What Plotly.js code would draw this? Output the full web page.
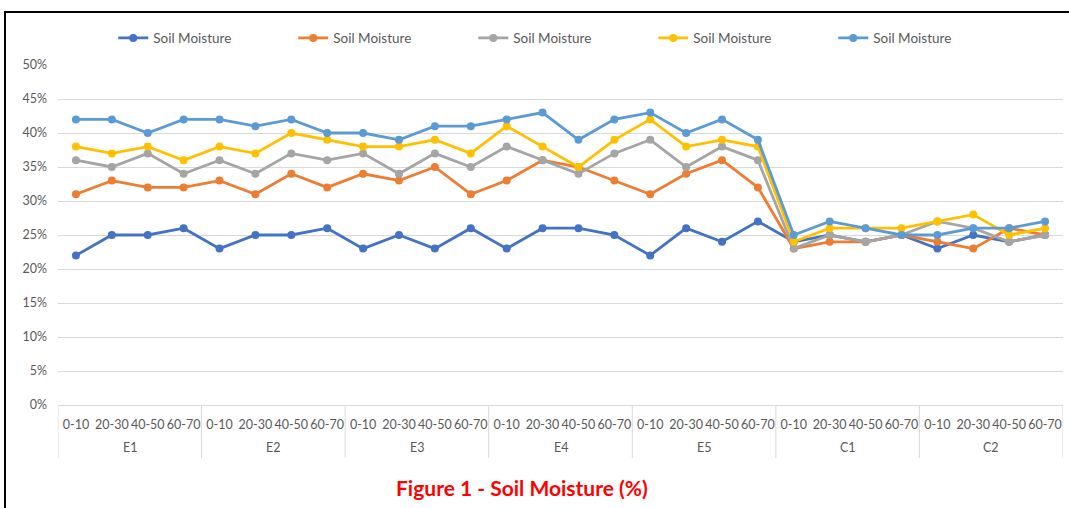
<!DOCTYPE html>
<html>
<head>
<meta charset="utf-8">
<script src="https://cdn.plot.ly/plotly-3.0.1.min.js"></script>
<style>
  html, body { margin: 0; padding: 0; background: #fff; }
  #wrap { position: relative; width: 1069px; height: 508px; overflow: hidden; }
  #chart { position: absolute; left: 0; top: 0; width: 1069px; height: 508px; }
  #frame { position: absolute; left: 4px; top: 11px; width: 1080px; height: 520px;
           border-left: 2px solid #000; border-top: 2px solid #000; pointer-events: none; }
</style>
</head>
<body>
<div id="wrap">
  <div id="chart"></div>
  <div id="frame"></div>
</div>
<script>
// ---- data ----
const groups = ["E1", "E2", "E3", "E4", "E5", "C1", "C2"];
const depths = ["0-10", "20-30", "40-50", "60-70"];
const seriesNames = ["Soil Moisture", "Soil Moisture", "Soil Moisture", "Soil Moisture", "Soil Moisture"];
const seriesColors = ["#4472C4", "#ED7D31", "#A5A5A5", "#FFC000", "#5B9BD5"];

const series1 = [22, 25, 25, 26,  23, 25, 25, 26,  23, 25, 23, 26,  23, 26, 26, 25,  22, 26, 24, 27,  24, 25, 24, 25,  23, 25, 24, 25];
const series2 = [31, 33, 32, 32,  33, 31, 34, 32,  34, 33, 35, 31,  33, 36, 35, 33,  31, 34, 36, 32,  23, 24, 24, 25,  24, 23, 26, 25];
const series3 = [36, 35, 37, 34,  36, 34, 37, 36,  37, 34, 37, 35,  38, 36, 34, 37,  39, 35, 38, 36,  23, 25, 24, 25,  27, 26, 24, 25];
const series4 = [38, 37, 38, 36,  38, 37, 40, 39,  38, 38, 39, 37,  41, 38, 35, 39,  42, 38, 39, 38,  24, 26, 26, 26,  27, 28, 25, 26];
const series5 = [42, 42, 40, 42,  42, 41, 42, 40,  40, 39, 41, 41,  42, 43, 39, 42,  43, 40, 42, 39,  25, 27, 26, 25,  25, 26, 26, 27];
const allSeries = [series1, series2, series3, series4, series5];

const yTickVals = [0, 5, 10, 15, 20, 25, 30, 35, 40, 45, 50];
const yTickText = ["0%", "5%", "10%", "15%", "20%", "25%", "30%", "35%", "40%", "45%", "50%"];
const titleText = "Figure 1 - Soil Moisture (%)";

// ---- build ----
const xKeys = [], xTickText = [];
groups.forEach(g => depths.forEach(d => { xKeys.push(g + " " + d); xTickText.push(d); }));
const nPer = depths.length;

const traces = allSeries.map((vals, i) => ({
  type: "scatter",
  mode: "lines+markers",
  name: seriesNames[i],
  x: xKeys,
  y: vals,
  line: { color: seriesColors[i], width: 2.8 },
  marker: { color: seriesColors[i], size: 8 },
  hoverinfo: "skip"
}));

const FONT = "Lato, 'Open Sans', sans-serif";

// group labels (second axis row) and dividers, placed on the category scale
const groupAnnotations = groups.map((g, gi) => ({
  text: g,
  xref: "x", yref: "paper",
  x: gi * nPer + (nPer - 1) / 2,
  y: -0.126,
  xanchor: "center", yanchor: "middle",
  showarrow: false,
  font: { family: FONT, size: 12.5, color: "#595959" }
}));
const dividerShapes = [];
for (let gi = 0; gi <= groups.length; gi++) {
  const xv = gi * nPer - 0.5;
  dividerShapes.push({
    type: "line", xref: "x", yref: "paper",
    x0: xv, x1: xv, y0: 0, y1: -0.156,
    line: { color: "#D9D9D9", width: 1 }
  });
}

const layout = {
  width: 1069,
  height: 508,
  margin: { l: 58, r: 6, t: 65, b: 103 },
  paper_bgcolor: "#ffffff",
  plot_bgcolor: "#ffffff",
  font: { family: FONT, size: 12, color: "#595959" },
  showlegend: true,
  legend: {
    orientation: "h",
    x: 0.055, xanchor: "left",
    y: 1.079, yanchor: "middle",
    entrywidth: 135, entrywidthmode: "pixels",
    font: { family: FONT, size: 13.5, color: "#595959" },
    bgcolor: "rgba(0,0,0,0)"
  },
  xaxis: {
    type: "category",
    range: [-0.5, xKeys.length - 0.5],
    autorange: false,
    tickmode: "array",
    tickvals: xKeys,
    ticktext: xTickText,
    tickangle: 0,
    showgrid: false,
    showline: true,
    linecolor: "#D9D9D9",
    linewidth: 1,
    ticks: "",
    ticklabelstandoff: 8,
    tickfont: { family: FONT, size: 12.5, color: "#595959" },
    zeroline: false
  },
  yaxis: {
    range: [0, 50],
    tickmode: "array",
    tickvals: yTickVals,
    ticktext: yTickText,
    showgrid: true,
    gridcolor: "#D9D9D9",
    gridwidth: 1,
    zeroline: false,
    showline: false,
    ticks: "",
    ticklabelstandoff: 10,
    tickfont: { family: FONT, size: 12.5, color: "#595959" }
  },
  shapes: dividerShapes,
  annotations: groupAnnotations.concat([{
    text: "<b>" + titleText + "</b>",
    xref: "paper", yref: "paper",
    x: 0.462, y: -0.244,
    xanchor: "center", yanchor: "middle",
    showarrow: false,
    font: { family: FONT, size: 21, color: "#FF0000" }
  }])
};

Plotly.newPlot("chart", traces, layout, { displayModeBar: false, staticPlot: true });
</script>
</body>
</html>
